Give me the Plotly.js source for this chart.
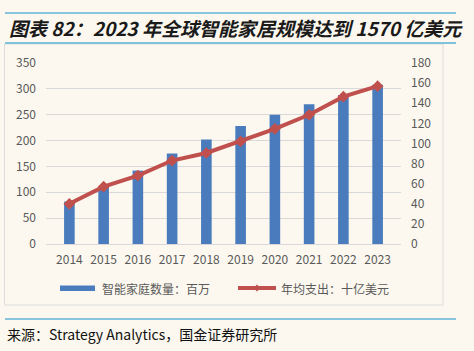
<!DOCTYPE html>
<html>
<head>
<meta charset="utf-8">
<script src="https://cdn.plot.ly/plotly-3.0.1.min.js"></script>
<style>
html,body{margin:0;padding:0;background:#fcf8ef;}
#chart{width:474px;height:351px;}
</style>
</head>
<body>
<div id="chart"></div>
<script>
const years = ['2014','2015','2016','2017','2018','2019','2020','2021','2022','2023'];
const households = [82, 112, 142, 175, 202, 228, 250, 270, 288, 308];
const spending = [40, 57, 68, 83, 90.5, 102, 114.5, 128.5, 146.5, 157];
const seriesNames = ['智能家庭数量：百万', '年均支出：十亿美元'];
const titleText = '图表 82：2023 年全球智能家居规模达到 1570 亿美元';
const sourceText = '来源：Strategy Analytics，国金证券研究所';

const W = 474, H = 351;
const L = 46, R = 73, T = 63, B = 107;
const pw = W - L - R, ph = H - T - B;
const px = x => (x - L) / pw;
const py = y => (H - B - y) / ph;

const blue = '#4a7cbd', red = '#c0504d', grey = '#595959';
const font = "'Noto Sans CJK SC', 'Noto Sans', sans-serif";

const traces = [
  {type:'bar', x:years, y:households, name:seriesNames[0], marker:{color:blue}, width:0.31, yaxis:'y', showlegend:false, hoverinfo:'x+y'},
  {type:'scatter', mode:'lines+markers', x:years, y:spending, name:seriesNames[1], yaxis:'y2',
   line:{color:red, width:4}, marker:{symbol:'diamond', size:9, color:red}, showlegend:false}
];

const shapes = [
  {type:'line', xref:'paper', yref:'paper', x0:px(5), x1:px(456), y0:py(13), y1:py(13), line:{color:'#63b5d6', width:1.5}},
  {type:'line', xref:'paper', yref:'paper', x0:px(5), x1:px(456), y0:py(43), y1:py(43), line:{color:'#7fc2dc', width:2}},
  {type:'rect', xref:'paper', yref:'paper', x0:px(4.5), x1:px(443), y0:py(44), y1:py(305), line:{color:'#dcdcdc', width:1}, fillcolor:'rgba(0,0,0,0)', layer:'below'},
  {type:'line', xref:'paper', yref:'paper', x0:px(5), x1:px(456), y0:py(319), y1:py(319), line:{color:'#63b5d6', width:1.5}},
  {type:'rect', xref:'paper', yref:'paper', x0:px(60), x1:px(95), y0:py(285.5), y1:py(291), fillcolor:blue, line:{width:0}},
  {type:'line', xref:'paper', yref:'paper', x0:px(238), x1:px(276), y0:py(288), y1:py(288), line:{color:red, width:4}},
  {type:'path', xref:'paper', yref:'paper',
   path:`M ${px(257)} ${py(284.5)} L ${px(260.5)} ${py(288)} L ${px(257)} ${py(291.5)} L ${px(253.5)} ${py(288)} Z`,
   fillcolor:red, line:{width:0}}
];

const annotations = [
  {xref:'paper', yref:'paper', x:px(7), y:py(27), xanchor:'left', yanchor:'middle', showarrow:false,
   text:'<b><i>'+titleText+'</i></b>', font:{family:font, size:19, color:'#1a1a1a'}},
  {xref:'paper', yref:'paper', x:px(100), y:py(288), xanchor:'left', yanchor:'middle', showarrow:false,
   text:seriesNames[0], font:{family:font, size:12, color:grey}},
  {xref:'paper', yref:'paper', x:px(279), y:py(288), xanchor:'left', yanchor:'middle', showarrow:false,
   text:seriesNames[1], font:{family:font, size:12, color:grey}},
  {xref:'paper', yref:'paper', x:px(5), y:py(334), xanchor:'left', yanchor:'middle', showarrow:false,
   text:sourceText, font:{family:font, size:14, color:'#111'}}
];

const layout = {
  width:W, height:H,
  margin:{l:L, r:R, t:T, b:B, pad:0},
  paper_bgcolor:'#fcf8ef', plot_bgcolor:'rgba(0,0,0,0)',
  font:{family:font, size:12, color:grey},
  showlegend:false,
  xaxis:{type:'category', showgrid:false, showline:true, linecolor:'#d9d9d9', linewidth:1, ticks:'',
         tickfont:{size:12, color:grey}, ticklabelstandoff:5, fixedrange:true},
  yaxis:{range:[0,350], dtick:50, showgrid:true, gridcolor:'#d9d9d9', gridwidth:1, zeroline:false,
         showline:false, ticks:'', tickfont:{size:12, color:grey}, ticklabelstandoff:9, fixedrange:true},
  yaxis2:{range:[0,180], dtick:20, overlaying:'y', side:'right', showgrid:false, zeroline:false,
          showline:false, ticks:'', tickfont:{size:12, color:grey}, ticklabelstandoff:9, fixedrange:true},
  bargap:0.69,
  shapes:shapes,
  annotations:annotations
};

Plotly.newPlot('chart', traces, layout, {displayModeBar:false, staticPlot:true});
</script>
</body>
</html>
